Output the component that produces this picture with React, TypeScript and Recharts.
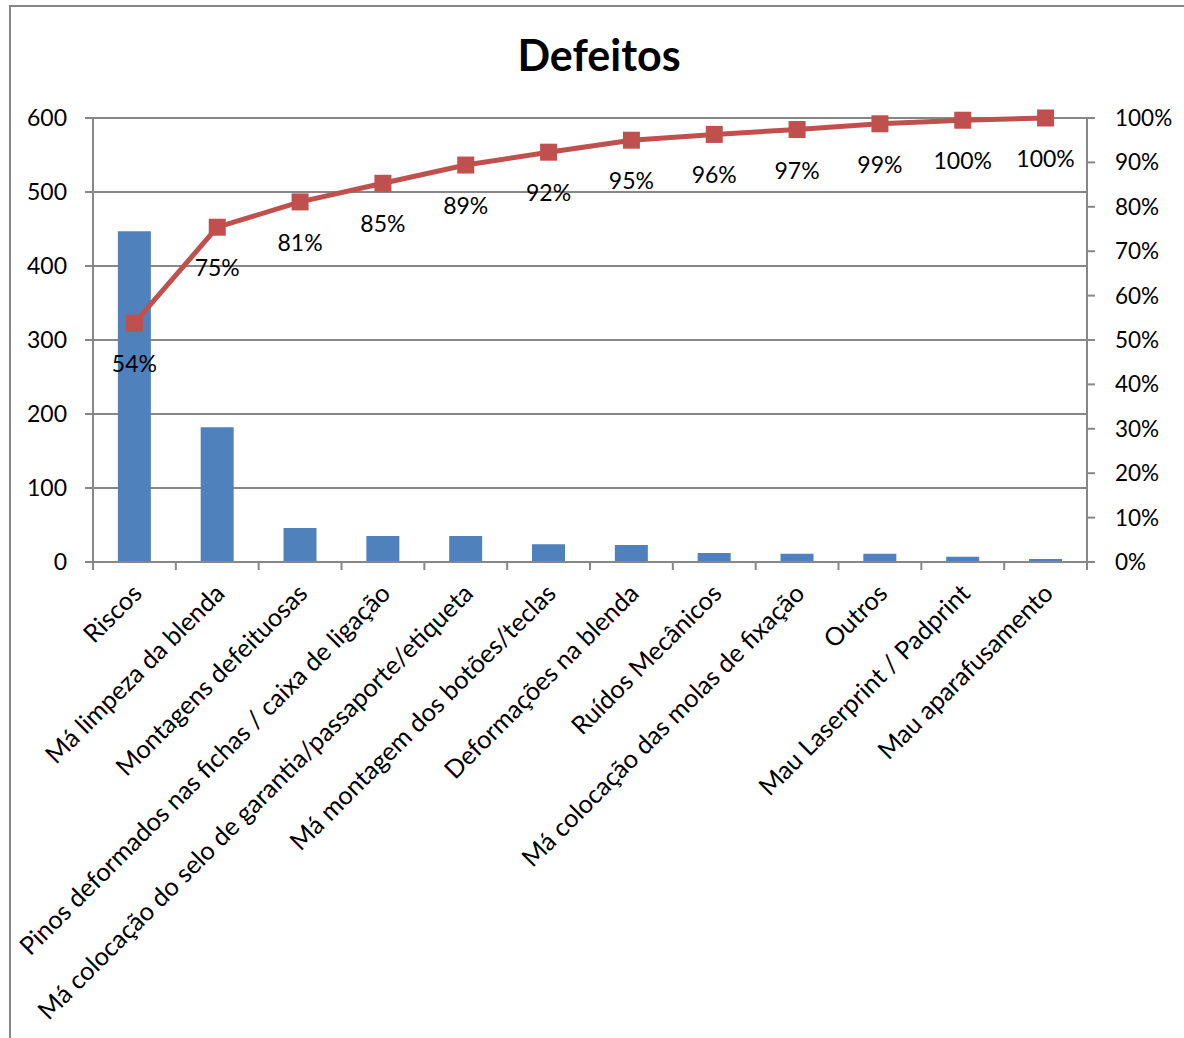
import React from 'react';
import { ComposedChart, Bar, Line, XAxis, YAxis, CartesianGrid, LabelList } from 'recharts';

const categories = [
  'Riscos',
  'Má limpeza da blenda',
  'Montagens defeituosas',
  'Pinos deformados nas fichas / caixa de ligação',
  'Má colocação do selo de garantia/passaporte/etiqueta',
  'Má montagem dos botões/teclas',
  'Deformações na blenda',
  'Ruídos Mecânicos',
  'Má colocação das molas de fixação',
  'Outros',
  'Mau Laserprint / Padprint',
  'Mau aparafusamento',
];
const defects = [447, 182, 46, 35, 35, 24, 23, 12, 11, 11, 7, 4];
const cumulativePct = [53.8, 75.4, 81.1, 85.3, 89.4, 92.3, 95.0, 96.3, 97.4, 98.7, 99.5, 100];
const countTicks = [0, 100, 200, 300, 400, 500, 600];
const pctTicks = [0, 10, 20, 30, 40, 50, 60, 70, 80, 90, 100];
const title = 'Defeitos';

const data = categories.map((name, i) => ({ name, defects: defects[i], cum: cumulativePct[i] }));

const W = 1184;
const H = 1038;
const M = { top: 118, right: 17, bottom: 6, left: 33 };
const LEFT_W = 60;
const RIGHT_W = 80;
const PLOT_H = 444;
const XAXIS_H = H - M.top - M.bottom - PLOT_H;
const PLOT_W = W - M.left - M.right - LEFT_W - RIGHT_W;
const BAND = PLOT_W / categories.length;

const FONT = 'Lato, "Open Sans", sans-serif';
const GRAY = '#878787';
const BAR = '#4F81BD';
const LINE = '#C0504D';

const XTick = (props: any) => {
  const { x, y, payload, index } = props;
  const lx = x - BAND / 2;
  const ax = x + 9;
  const ay = y + 33;
  return (
    <g>
      <line x1={lx} y1={y} x2={lx} y2={y + 8} stroke={GRAY} strokeWidth={2} />
      {index === categories.length - 1 && (
        <line x1={x + BAND / 2} y1={y} x2={x + BAND / 2} y2={y + 8} stroke={GRAY} strokeWidth={2} />
      )}
      <text
        x={ax}
        y={ay}
        textAnchor="end"
        transform={`rotate(-45, ${ax}, ${ay})`}
        fontSize={25.3}
        fontFamily={FONT}
        fill="#000"
      >
        {payload.value}
      </text>
    </g>
  );
};

const SquareDot = (props: any) => {
  const { cx, cy, index } = props;
  const s = 17;
  return <rect key={`d${index}`} x={cx - s / 2} y={cy - s / 2} width={s} height={s} fill={LINE} />;
};

const PctLabel = (props: any) => {
  const { x, y, value, index } = props;
  return (
    <text
      key={`l${index}`}
      x={x}
      y={y + 40}
      textAnchor="middle"
      dominantBaseline="central"
      fontSize={23}
      fontFamily={FONT}
      fill="#000"
    >
      {`${Math.round(value)}%`}
    </text>
  );
};

export default function App() {
  return (
    <div style={{ position: 'absolute', left: 0, top: 0, width: W, height: H, overflow: 'hidden', background: '#fff' }}>
      <div
        style={{
          position: 'absolute',
          left: 9,
          top: 5,
          width: W,
          height: H,
          borderTop: `2px solid ${GRAY}`,
          borderLeft: `2px solid ${GRAY}`,
          boxSizing: 'border-box',
        }}
      />
      <svg style={{ position: 'absolute', left: 0, top: 0 }} width={W} height={100}>
        <text x={599} y={71} textAnchor="middle" fontSize={43} fontWeight={700} fontFamily={FONT} fill="#000">
          {title}
        </text>
      </svg>
      <div style={{ position: 'absolute', left: 0, top: 0 }}>
        <ComposedChart width={W} height={H} data={data} margin={M} barCategoryGap="30%">
          <CartesianGrid yAxisId="left" vertical={false} stroke={GRAY} strokeWidth={2} />
          <XAxis
            dataKey="name"
            interval={0}
            height={XAXIS_H}
            tickSize={0}
            tickMargin={0}
            tickLine={false}
            axisLine={{ stroke: GRAY, strokeWidth: 2 }}
            tick={<XTick />}
          />
          <YAxis
            yAxisId="left"
            orientation="left"
            width={LEFT_W}
            domain={[0, 600]}
            ticks={countTicks}
            interval={0}
            tickSize={8}
            tickMargin={18}
            axisLine={{ stroke: GRAY, strokeWidth: 2 }}
            tickLine={{ stroke: GRAY, strokeWidth: 2 }}
            tick={{ fill: '#000', fontSize: 23, fontFamily: FONT }}
          />
          <YAxis
            yAxisId="right"
            orientation="right"
            width={RIGHT_W}
            domain={[0, 100]}
            ticks={pctTicks}
            interval={0}
            tickSize={8}
            tickMargin={20}
            tickFormatter={(v: number) => `${v}%`}
            axisLine={{ stroke: GRAY, strokeWidth: 2 }}
            tickLine={{ stroke: GRAY, strokeWidth: 2 }}
            tick={{ fill: '#000', fontSize: 22.5, fontFamily: FONT, textAnchor: 'start' }}
          />
          <Bar yAxisId="left" dataKey="defects" fill={BAR} isAnimationActive={false} />
          <Line
            yAxisId="right"
            dataKey="cum"
            stroke={LINE}
            strokeWidth={5}
            dot={SquareDot}
            activeDot={false}
            isAnimationActive={false}
          >
            <LabelList dataKey="cum" content={PctLabel} />
          </Line>
        </ComposedChart>
      </div>
    </div>
  );
}
